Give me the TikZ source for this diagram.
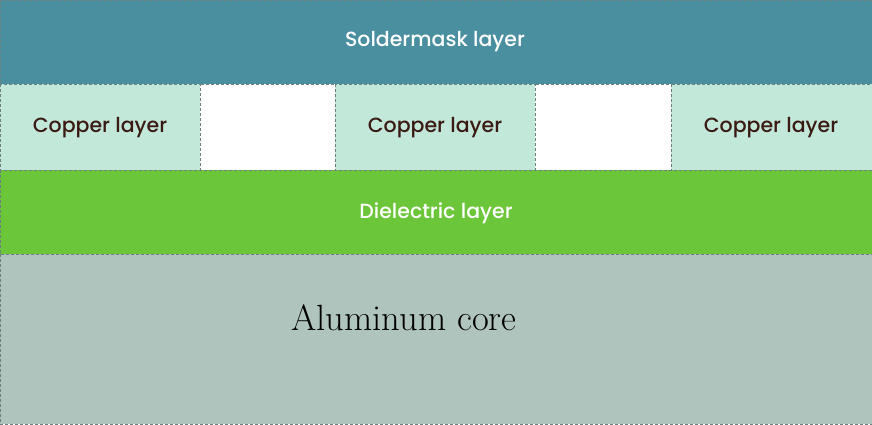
\documentclass[tikz,border=0pt]{standalone}
\usepackage{fontspec}
\newfontfamily\pop{Poppins}[UprightFont={* Medium}]
\definecolor{solder}{HTML}{4A8FA0}
\definecolor{copper}{HTML}{C2E8DA}
\definecolor{diel}{HTML}{6CC63A}
\definecolor{alu}{HTML}{B0C4BE}
\definecolor{edge}{HTML}{6E7F80}
\definecolor{ctext}{HTML}{3A1A12}
\tikzset{
  layer/.style={draw=edge, line width=0.6pt, densely dashed},
  lbl/.style={font=\pop\fontsize{20.5}{24}\selectfont},
}
\begin{document}
\begin{tikzpicture}[x=1pt,y=-1pt]
\useasboundingbox (0,0) rectangle (872,424);
\fill[white] (0,0) rectangle (872,424);
\filldraw[layer, fill=solder] (0,0) rectangle (872,84);
\filldraw[layer, fill=copper] (0,84) rectangle (200,170);
\filldraw[layer, fill=copper] (335,84) rectangle (535,170);
\filldraw[layer, fill=copper] (671,84) rectangle (872,170);
\filldraw[layer, fill=diel] (0,170) rectangle (872,254);
\filldraw[layer, fill=alu] (0,254) rectangle (872,424);
\node[lbl, text=white] (sm) at (435,42) {Soldermask layer};
\node[lbl, text=ctext] (c1) at (100,128) {Copper layer};
\node[lbl, text=ctext] (c2) at (435,128) {Copper layer};
\node[lbl, text=ctext] (c3) at (771,128) {Copper layer};
\node[lbl, text=white] (di) at (436,213) {Dielectric layer};
\node[font=\fontsize{36.5}{42}\selectfont, text=black] (al) at (404,318) {Aluminum core};
\end{tikzpicture}
\end{document}
